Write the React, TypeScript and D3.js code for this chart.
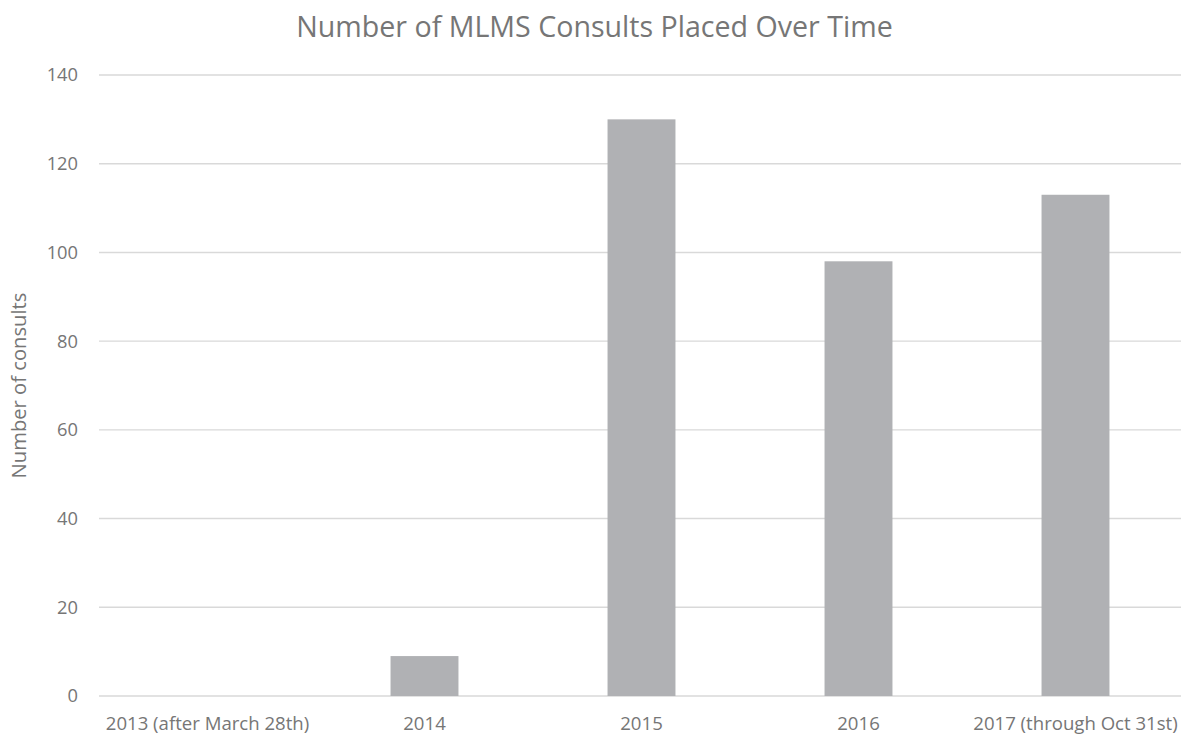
import React from "react";
import * as d3 from "d3";

const categories = [
  "2013 (after March 28th)",
  "2014",
  "2015",
  "2016",
  "2017 (through Oct 31st)",
];
const consults = [0, 9, 130, 98, 113];
const yTicks = [0, 20, 40, 60, 80, 100, 120, 140];

const title = "Number of MLMS Consults Placed Over Time";
const yTitle = "Number of consults";

const W = 1181;
const H = 736;
const plot = { left: 99, right: 1184, top: 75, bottom: 696 };

const FONT = "'Open Sans', 'DejaVu Sans', sans-serif";
const TEXT = "#767676";
const GRID = "#D9D9D9";
const BAR = "#B0B1B4";

export default function App() {
  const x = d3
    .scaleBand<string>()
    .domain(categories)
    .range([plot.left, plot.right])
    .paddingInner(0.687)
    .paddingOuter(0.3435);

  const y = d3
    .scaleLinear()
    .domain([0, 140])
    .range([plot.bottom, plot.top]);

  return (
    <svg
      width={W}
      height={H}
      viewBox={`0 0 ${W} ${H}`}
      style={{ position: "absolute", left: 0, top: 0, display: "block", background: "#fff" }}
      fontFamily={FONT}
    >
      <rect x={0} y={0} width={W} height={H} fill="#fff" />

      {/* horizontal gridlines */}
      {yTicks.map((t) => (
        <line
          key={`g${t}`}
          x1={plot.left}
          x2={plot.right}
          y1={y(t)}
          y2={y(t)}
          stroke={GRID}
          strokeWidth={1.4}
        />
      ))}

      {/* y tick labels */}
      {yTicks.map((t) => (
        <text
          key={`t${t}`}
          x={78}
          y={y(t)}
          dy="0.35em"
          textAnchor="end"
          fontSize={18.3}
          fill={TEXT}
        >
          {t}
        </text>
      ))}

      {/* bars */}
      {categories.map((c, i) =>
        consults[i] > 0 ? (
          <rect
            key={`b${c}`}
            x={x(c)}
            y={y(consults[i])}
            width={x.bandwidth()}
            height={y(0) - y(consults[i])}
            fill={BAR}
          />
        ) : null
      )}

      {/* category labels */}
      {categories.map((c) => (
        <text
          key={`c${c}`}
          x={(x(c) ?? 0) + x.bandwidth() / 2}
          y={730}
          textAnchor="middle"
          fontSize={18.6}
          fill={TEXT}
        >
          {c}
        </text>
      ))}

      {/* y-axis title */}
      <text
        transform={`translate(26, ${(plot.top + plot.bottom) / 2}) rotate(-90)`}
        textAnchor="middle"
        fontSize={20.2}
        fill={TEXT}
      >
        {yTitle}
      </text>

      {/* chart title */}
      <text x={594.5} y={37} textAnchor="middle" fontSize={28.6} fill={TEXT}>
        {title}
      </text>
    </svg>
  );
}
